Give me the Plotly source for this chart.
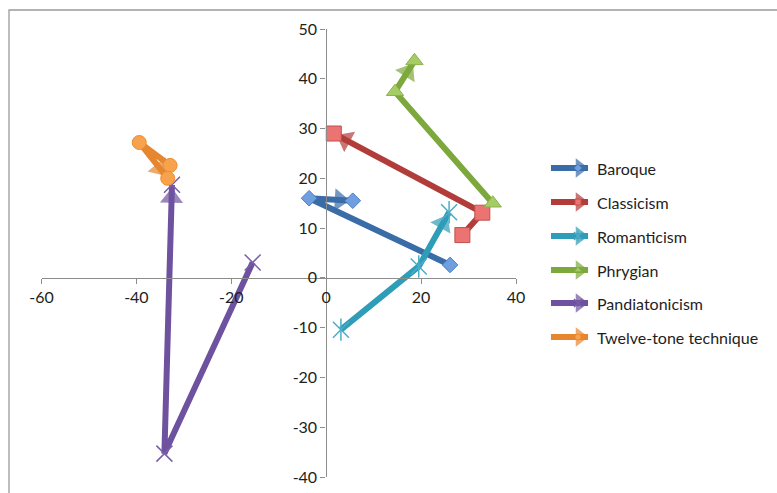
import plotly.graph_objects as go

# Style trajectories on a two-dimensional map; each path ends in an arrow
series_names = ["Baroque", "Classicism", "Romanticism", "Phrygian",
                "Pandiatonicism", "Twelve-tone technique"]

baroque_x = [26.1, -3.6, 5.6]
baroque_y = [2.6, 16.0, 15.5]

classicism_x = [28.7, 32.9, 1.6]
classicism_y = [8.6, 13.1, 29.0]

romanticism_x = [3.1, 19.5, 25.9]
romanticism_y = [-10.4, 2.3, 13.2]

phrygian_x = [35.1, 14.5, 18.6]
phrygian_y = [15.0, 37.4, 43.6]

pandiatonicism_x = [-15.5, -34.1, -32.5]
pandiatonicism_y = [3.1, -35.3, 18.7]

twelve_tone_x = [-32.9, -39.4, -33.4]
twelve_tone_y = [22.6, 27.2, 20.0]

x_ticks = [-60, -40, -20, 0, 20, 40]
y_ticks = [-40, -30, -20, -10, 0, 10, 20, 30, 40, 50]

series_x = [baroque_x, classicism_x, romanticism_x, phrygian_x,
            pandiatonicism_x, twelve_tone_x]
series_y = [baroque_y, classicism_y, romanticism_y, phrygian_y,
            pandiatonicism_y, twelve_tone_y]

# line colour, marker fill, marker outline, marker symbol(s), marker size
styles = [
    ("#3A6CA8", "#6F9FE0", "#4A7EBB", ["diamond"], 12),
    ("#B23C39", "#EB7472", "#C0504D", ["square"], 15),
    ("#2F9DB8", "#4BACC6", "#4BACC6", ["x-thin-open", "line-ns-open"], 14),
    ("#7DA83C", "#A6CC66", "#8AB449", ["triangle-up"], 15),
    ("#6E52A0", "#7B5EA7", "#7B5EA7", ["x-thin-open"], 14),
    ("#E6862F", "#F7A24C", "#F08C32", ["circle"], 14),
]

W, H = 777, 493
FONT = "Lato"

fig = go.Figure()


def add_path(xs, ys, style, xaxis="x", yaxis="y", width=6, asize=20, standoff=13):
    line_c = style[0]
    fig.add_trace(go.Scatter(x=xs, y=ys, mode="lines", xaxis=xaxis, yaxis=yaxis,
                             line=dict(color=line_c, width=width),
                             hoverinfo="skip", showlegend=False))
    # arrow head on the final segment, oriented along the segment
    fig.add_trace(go.Scatter(x=xs[-2:], y=ys[-2:], mode="markers", xaxis=xaxis, yaxis=yaxis,
                             marker=dict(symbol="triangle-up", angleref="previous",
                                         size=[0, asize], standoff=standoff,
                                         color=line_c, line=dict(width=0)),
                             hoverinfo="skip", showlegend=False))


def add_markers(xs, ys, style, xaxis="x", yaxis="y", msize=None):
    line_c, fill_c, edge_c, symbols, size = style
    if msize is None:
        msize = size
    for sym in symbols:
        is_open = sym.endswith("-open")
        fig.add_trace(go.Scatter(
            x=xs, y=ys, mode="markers", xaxis=xaxis, yaxis=yaxis,
            marker=dict(symbol=sym, size=msize + (2 if is_open else 0),
                        color=fill_c,
                        line=dict(color=edge_c if not is_open else fill_c,
                                  width=1.5 if is_open else 1)),
            hoverinfo="skip", showlegend=False))


for xs, ys, st in zip(series_x, series_y, styles):
    add_path(xs, ys, st)
    add_markers(xs, ys, st)

# Legend drawn on a pixel-scaled overlay axis pair
legend_y = [168, 202, 236, 270, 303, 337]
for name, ly, st in zip(series_names, legend_y, styles):
    add_path([551, 588], [ly, ly], st, xaxis="x2", yaxis="y2", width=6, asize=17, standoff=8)
    add_markers([578], [ly], st, xaxis="x2", yaxis="y2", msize=6)
    fig.add_annotation(x=595, y=ly, xref="x2", yref="y2", text=name, showarrow=False,
                       xanchor="left", yanchor="middle",
                       font=dict(family=FONT, size=16, color="#1E1E1E"))

axis_color = "#8C8C8C"
x_pos0, x_pos1 = 41.5, 516.0
y_pos0, y_pos1 = 29.0, 477.0

fig.update_layout(
    template="none",
    width=W, height=H,
    margin=dict(l=0, r=0, t=0, b=0, pad=0, autoexpand=False),
    paper_bgcolor="white", plot_bgcolor="rgba(0,0,0,0)",
    showlegend=False,
    font=dict(family=FONT, size=16, color="#1E1E1E"),
    xaxis=dict(domain=[x_pos0 / W, x_pos1 / W], range=[-60, 40], autorange=False,
               anchor="free", position=1 - 278 / H, automargin=False,
               tickmode="array", tickvals=x_ticks, ticktext=[str(v) for v in x_ticks],
               showline=True, linecolor=axis_color, linewidth=1.3,
               ticks="outside", ticklen=5, tickcolor=axis_color, tickwidth=1.3,
               showgrid=False, zeroline=False, tickfont=dict(size=16)),
    yaxis=dict(domain=[1 - y_pos1 / H, 1 - y_pos0 / H], range=[-40, 50], autorange=False,
               anchor="free", position=325.5 / W, automargin=False,
               tickmode="array", tickvals=y_ticks, ticktext=[str(v) for v in y_ticks],
               showline=True, linecolor=axis_color, linewidth=1.3,
               ticks="outside", ticklen=5, tickcolor=axis_color, tickwidth=1.3,
               showgrid=False, zeroline=False, tickfont=dict(size=16)),
    xaxis2=dict(domain=[0, 1], range=[0, W], visible=False, anchor="y2",
                fixedrange=True, automargin=False),
    yaxis2=dict(domain=[0, 1], range=[H, 0], visible=False, anchor="x2",
                fixedrange=True, automargin=False),
)

# chart frame
fig.add_shape(type="rect", xref="paper", yref="paper",
              x0=9 / W, x1=1.02, y0=-0.02, y1=1 - 10 / H,
              line=dict(color="#9A9A9A", width=1.3), fillcolor="rgba(0,0,0,0)", layer="below")

fig.write_html("out.html")
